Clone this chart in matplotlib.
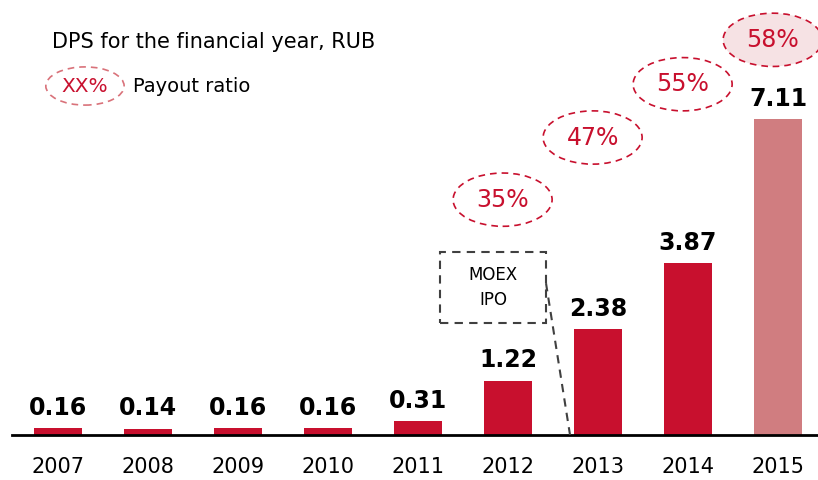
import matplotlib.pyplot as plt
from matplotlib.patches import Ellipse, Rectangle

years = ['2007', '2008', '2009', '2010', '2011', '2012', '2013', '2014', '2015']
dps = [0.16, 0.14, 0.16, 0.16, 0.31, 1.22, 2.38, 3.87, 7.11]
payout_years = ['2012', '2013', '2014', '2015']
payout = ['35%', '47%', '55%', '58%']
payout_level = [5.3, 6.7, 7.9, 8.9]  # vertical position of the ellipses

RED = '#C8102E'
PALE = '#D07D80'

fig = plt.figure(figsize=(8.18, 4.8), dpi=100)
ax = fig.add_axes([0, 0, 1, 1])
ax.set_xlim(-0.644, 8.444)
ax.set_ylim(-1.014, 9.797)
ax.axis('off')

x = list(range(len(years)))
colors = [RED] * (len(years) - 1) + [PALE]
ax.bar(x, dps, width=0.533, color=colors, zorder=2)
ax.plot([-0.511, 8.444], [0, 0], color='black', lw=2, zorder=3)

for i, v in enumerate(dps):
    ax.annotate(f'{v:.2f}', (i, v), xytext=(0, 6), textcoords='offset points',
                ha='center', va='bottom', fontsize=17, fontweight='bold')
    ax.text(i, -0.73, years[i], ha='center', va='center', fontsize=15)

# payout ratio ellipses
for yr, p, lvl in zip(payout_years, payout, payout_level):
    i = years.index(yr) - 0.06
    face = '#F6E2E4' if yr == '2015' else 'none'
    e = Ellipse((i, lvl), 1.1, 1.2, facecolor=face, edgecolor=RED,
                lw=1.2, ls=(0, (4, 3)), zorder=4)
    ax.add_patch(e)
    ax.text(i, lvl, p, ha='center', va='center', fontsize=17, color=RED, zorder=5)

# MOEX IPO box
ax.add_patch(Rectangle((4.244, 2.52), 1.178, 1.6, fill=False, edgecolor='#404040',
                       lw=1.5, ls=(0, (4, 3)), zorder=4))
ax.text(4.833, 3.32, 'MOEX\nIPO', ha='center', va='center', fontsize=12,
        linespacing=1.5, color='black')
ax.plot([5.422, 5.689], [3.42, 0], color='#404040', lw=1.5, ls=(0, (4, 3)), zorder=4)

# header and legend
fig.text(52 / 818, 1 - 42 / 480, 'DPS for the financial year, RUB', fontsize=15,
         ha='left', va='center')
ax.add_patch(Ellipse((0.3, 7.86), 0.87, 0.86, facecolor='none', edgecolor='#D9727A',
                     lw=1.2, ls=(0, (4, 3))))
ax.text(0.3, 7.86, 'XX%', ha='center', va='center', fontsize=14.5, color=RED)
fig.text(133 / 818, 1 - 86 / 480, 'Payout ratio', fontsize=14, ha='left', va='center')

fig.savefig('out.png', dpi=100)
